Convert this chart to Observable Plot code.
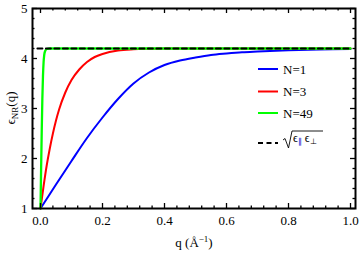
<!DOCTYPE html>
<html><head><meta charset="utf-8">
<script src="https://cdn.jsdelivr.net/npm/d3@7"></script>
<script src="https://cdn.jsdelivr.net/npm/@observablehq/plot@0.6"></script>
<style>html,body{margin:0;padding:0;background:#fff}svg{display:block}</style>
</head><body><div id="chart"></div>
<script>
// N = 1 (blue)
const qN1 = [0, 0.05, 0.1, 0.15, 0.2, 0.25, 0.3, 0.35, 0.4, 0.45, 0.5, 0.55, 0.6, 0.65, 0.7, 0.8, 0.9, 1.0];
const epsN1 = [1.0, 1.48, 1.95, 2.41, 2.82, 3.19, 3.50, 3.72, 3.87, 3.96, 4.02, 4.07, 4.10, 4.125, 4.14, 4.165, 4.18, 4.19];
// N = 3 (red)
const qN3 = [0, 0.01, 0.02, 0.03, 0.04, 0.05, 0.06, 0.08, 0.1, 0.125, 0.15, 0.175, 0.2, 0.25, 0.3, 0.35, 0.4, 0.5, 0.7, 1.0];
const epsN3 = [1.0, 1.45, 1.86, 2.2, 2.5, 2.76, 2.98, 3.32, 3.57, 3.78, 3.93, 4.03, 4.09, 4.16, 4.185, 4.195, 4.2, 4.2, 4.2, 4.2];
// N = 49 (green)
const qN49 = [0, 0.002, 0.004, 0.006, 0.008, 0.01, 0.012, 0.015, 0.02, 0.03, 0.05, 1.0];
const epsN49 = [1.0, 1.8, 2.55, 3.2, 3.65, 3.93, 4.07, 4.15, 4.19, 4.2, 4.2, 4.2];
// sqrt(eps_par * eps_perp) limit (dashed)
const qLimit = [-0.01, 1.0];
const epsLimit = [4.2, 4.2];

const seriesNames = ["N=1", "N=3", "N=49"];
const seriesColors = ["#0000ff", "#ff0000", "#00ff00"];

const xMajor = [0, 0.2, 0.4, 0.6, 0.8, 1.0];
const xMinor = d3.range(0, 26).map(i => i * 0.04).filter(v => !xMajor.some(m => Math.abs(m - v) < 1e-9));
const yMajor = [1, 2, 3, 4, 5];
const yMinor = d3.range(5, 25).map(i => i * 0.2).filter(v => !yMajor.some(m => Math.abs(m - v) < 1e-9));

const toRows = (qs, es, s) => qs.map((q, i) => ({q, e: es[i], s}));
const rowsN1 = toRows(qN1, epsN1, seriesNames[0]);
const rowsN3 = toRows(qN3, epsN3, seriesNames[1]);
const rowsN49 = toRows(qN49, epsN49, seriesNames[2]);
const rowsLimit = toRows(qLimit, epsLimit, "limit");

const W = 360, H = 253;
const mL = 32, mR = 5, mT = 8, mB = 45;
const innerH = H - mT - mB, innerW = W - mL - mR;
const maj = 5, mnr = 2.5;
const font = "'Liberation Serif', 'Times New Roman', serif";

const chart = Plot.plot({
  width: W, height: H,
  marginLeft: mL, marginRight: mR, marginTop: mT, marginBottom: mB,
  style: {fontFamily: font, fontSize: "13px", color: "#000", background: "#fff"},
  x: {domain: [-0.0258, 1.0161], label: null},
  y: {domain: [1, 5], label: null},
  marks: [
    Plot.line(rowsN1, {x: "q", y: "e", stroke: seriesColors[0], strokeWidth: 2, curve: "monotone-x"}),
    Plot.line(rowsN3, {x: "q", y: "e", stroke: seriesColors[1], strokeWidth: 2, curve: "monotone-x"}),
    Plot.line(rowsN49, {x: "q", y: "e", stroke: seriesColors[2], strokeWidth: 2.3, curve: "monotone-x"}),
    Plot.line(rowsLimit, {x: "q", y: "e", stroke: "#000", strokeWidth: 2, strokeDasharray: "5,3.5"}),
    // inward ticks
    Plot.tickX(xMajor, {x: d => d, insetTop: innerH - maj, stroke: "#000", strokeWidth: 1.3}),
    Plot.tickX(xMajor, {x: d => d, insetBottom: innerH - maj, stroke: "#000", strokeWidth: 1.3}),
    Plot.tickX(xMinor, {x: d => d, insetTop: innerH - mnr, stroke: "#000", strokeWidth: 1.3}),
    Plot.tickX(xMinor, {x: d => d, insetBottom: innerH - mnr, stroke: "#000", strokeWidth: 1.3}),
    Plot.tickY(yMajor, {y: d => d, insetRight: innerW - maj, stroke: "#000", strokeWidth: 1.3}),
    Plot.tickY(yMajor, {y: d => d, insetLeft: innerW - maj, stroke: "#000", strokeWidth: 1.3}),
    Plot.tickY(yMinor, {y: d => d, insetRight: innerW - mnr, stroke: "#000", strokeWidth: 1.3}),
    Plot.tickY(yMinor, {y: d => d, insetLeft: innerW - mnr, stroke: "#000", strokeWidth: 1.3}),
    Plot.axisX({ticks: xMajor, tickSize: 0, tickPadding: 7, tickFormat: d3.format(".1f"), label: null}),
    Plot.axisY({ticks: yMajor, tickSize: 0, tickPadding: 5, tickFormat: d3.format("d"), label: null}),
    Plot.frame({stroke: "#000", strokeWidth: 2})
  ]
});
document.getElementById("chart").appendChild(chart);

const svg = d3.select(chart);

// axis labels
const xl = svg.append("text").attr("x", (mL + W - mR) / 2 + 0.5).attr("y", 247)
  .attr("text-anchor", "middle").attr("font-size", 13).attr("font-family", font).attr("fill", "#000");
xl.append("tspan").text("q (Å");
xl.append("tspan").attr("dy", -5).attr("font-size", 9).text("−1");
xl.append("tspan").attr("dy", 5).text(")");

const yl = svg.append("text").attr("transform", `translate(15,${mT + innerH / 2}) rotate(-90)`)
  .attr("text-anchor", "middle").attr("font-size", 13).attr("font-family", font).attr("fill", "#000");
yl.append("tspan").text("ϵ");
yl.append("tspan").attr("dy", 3).attr("font-size", 9).text("NR");
yl.append("tspan").attr("dy", -3).text("(q)");

// legend
const lg = svg.append("g").attr("font-family", font).attr("font-size", 13).attr("fill", "#000")
  .attr("text-anchor", "start");
const lx0 = 258, lx1 = 278, tx = 283;
const rowsY = [69, 91.5, 113];
seriesNames.forEach((name, i) => {
  lg.append("line").attr("x1", lx0).attr("x2", lx1).attr("y1", rowsY[i]).attr("y2", rowsY[i])
    .attr("stroke", seriesColors[i]).attr("stroke-width", 2);
  lg.append("text").attr("x", tx).attr("y", rowsY[i] + 4.5).attr("text-anchor", "start").text(name);
});
const yd = 143;
lg.append("line").attr("x1", lx0).attr("x2", lx1).attr("y1", yd).attr("y2", yd)
  .attr("stroke", "#000").attr("stroke-width", 2).attr("stroke-dasharray", "5,3.5");
lg.append("path").attr("d", `M283,140 L285,138.5 L288.5,148 L292,131 L323,131`)
  .attr("fill", "none").attr("stroke", "#000").attr("stroke-width", 0.9);
const st = lg.append("text").attr("x", 293).attr("y", 142).attr("font-size", 12).attr("text-anchor", "start");
st.append("tspan").text("ϵ");
st.append("tspan").attr("dy", 2).attr("font-size", 8).attr("fill", "#0000cc").text("∥");
st.append("tspan").attr("dy", -2).text(" ϵ");
st.append("tspan").attr("dy", 2).attr("font-size", 8).text("⊥");
</script>
</body></html>
